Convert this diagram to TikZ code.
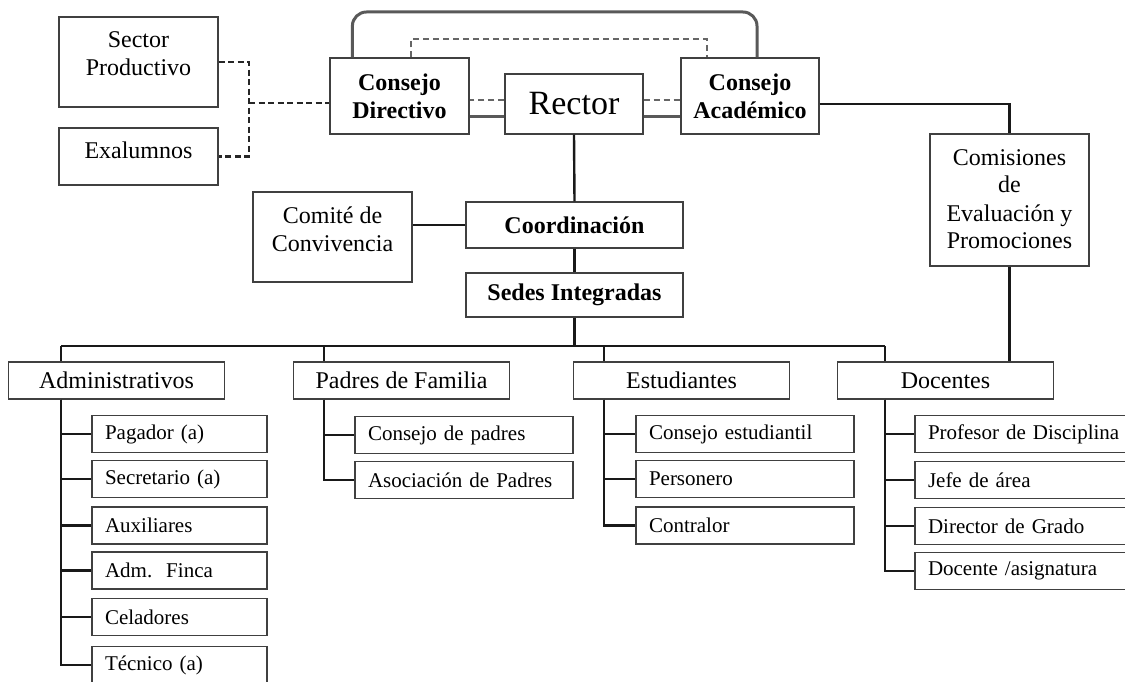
\documentclass[tikz,border=0pt]{standalone}
\usepackage{fontspec}
\setmainfont{Liberation Serif}
\usetikzlibrary{calc}

% box with text set from the top
\newcommand{\topcell}[3]{\parbox[c][#1][t]{#2}{\centering\rule{0pt}{31pt}#3}}

\begin{document}
\begin{tikzpicture}[x=1pt, y=-1pt,
    box/.style={draw=black!75, line width=1.2pt, fill=white, inner sep=0pt},
    big/.style={font=\fontsize{24}{28}\selectfont},
    head/.style={box, font=\bfseries\fontsize{24}{28}\selectfont, align=center},
    group/.style={box, big, minimum width=216pt, minimum height=37pt},
    leaf/.style={box, font=\fontsize{21}{24}\selectfont, minimum height=37pt,
                 inner xsep=13pt, text width=#1, align=left},
    leaf/.default=192pt,
    link/.style={line width=2.4pt, black!90},
    toplink/.style={line width=3pt, black!65, rounded corners=14pt},
    twin/.style={line width=3pt, black!65},
    dashlink/.style={line width=2.4pt, black!85, dash pattern=on 6pt off 3.5pt},
    graydash/.style={line width=2pt, black!60, dash pattern=on 6pt off 4pt}]

    \useasboundingbox (0,0) rectangle (1125,682);

    % Upper boxes
    \node[box, big] (sector) at (138.5,62) {\topcell{90pt}{159pt}{Sector\\Productivo}};
    \node[box, big] (exal) at (138.5,156.5) {\topcell{57pt}{159pt}{Exalumnos}};
    \node[head, minimum width=139pt, minimum height=76pt] (cd) at (399.5,96) {Consejo\\Directivo};
    \node[box, font=\fontsize{34}{38}\selectfont, minimum width=138pt, minimum height=60pt] (rector) at (574,104) {Rector};
    \node[head, minimum width=138pt, minimum height=76pt] (ca) at (750,96) {Consejo\\Académico};
    \node[box, big] (comis) at (1009.5,200) {\topcell{132pt}{159pt}{Comisiones\\de\\Evaluación y\\Promociones}};
    \node[box, big] (comite) at (332.5,237) {\topcell{90pt}{159pt}{Comité de\\Convivencia}};
    \node[head, minimum width=217pt, minimum height=46pt] (coord) at (574.5,225) {Coordinación};
    \node[head, minimum width=217pt, minimum height=44pt] (sedes) at (574.5,295) {Sedes Integradas};

    % Groups
    \node[group] (admin) at (116.5,380.5) {Administrativos};
    \node[group] (padres) at (401.5,380.5) {Padres de Familia};
    \node[group] (estud) at (681.5,380.5) {Estudiantes};
    \node[group] (docen) at (945.5,380.5) {Docentes};

    % Members of each group
    \foreach \n/\y/\t in {pag/434/Pagador (a), sec/479/Secretario (a), aux/525.5/Auxiliares,
                          finca/570.5/Adm.\ \ Finca, cel/617/Celadores, tec/665/Técnico (a)}
        \node[leaf=149pt] (\n) at (179.5,\y) {\t};
    \foreach \n/\y/\t in {cpad/435/Consejo de padres, asoc/480/Asociación de Padres}
        \node[leaf] (\n) at (464,\y) {\t};
    \foreach \n/\y/\t in {cest/434/Consejo estudiantil, pers/479/Personero, contr/525.5/Contralor}
        \node[leaf] (\n) at (745,\y) {\t};
    \foreach \n/\y/\t in {prof/434/Profesor de Disciplina, jefe/480/Jefe de área,
                          dirg/526/Director de Grado, dasig/571/{Docente /asignatura}}
        \node[leaf] (\n) at (1024,\y) {\t};

    % Outside links
    \coordinate (dj) at (249,103);
    \draw[dashlink] (sector.east) -| (dj) |- (exal.east);
    \draw[dashlink] (dj) -- (dj -| cd.west);

    % Links between the councils
    \coordinate (topR) at (757,12);
    \coordinate (dtop) at (707,39);
    \draw[toplink] ([xshift=23pt]cd.north west) |- (topR) -- (topR |- ca.north);
    \draw[graydash] ([xshift=82pt]cd.north west) |- (dtop) -- (dtop |- ca.north);
    \coordinate (dl) at ($(rector.west)+(0,-4)$);
    \coordinate (sl) at ($(rector.west)+(0,13)$);
    \coordinate (dr) at ($(rector.east)+(0,-4)$);
    \coordinate (sr) at ($(rector.east)+(0,13)$);
    \draw[graydash] (dl) -- (dl -| cd.east);
    \draw[twin] (sl) -- (sl -| cd.east);
    \draw[graydash] (dr) -- (dr -| ca.west);
    \draw[twin] (sr) -- (sr -| ca.west);

    % Main line
    \draw[link] (rector.south) -- (coord.north);
    \draw[link] (coord.west) -- (coord.west -| comite.east);
    \draw[link] (coord.south) -- (sedes.north);
    \draw[link] ($(ca.east)+(0,8)$) -| (comis.north);
    \draw[link] (comis.south) -- (comis.south |- docen.north);

    % Bus to the groups
    \coordinate (bA) at (61,346);
    \coordinate (bP) at (324,346);
    \coordinate (bE) at (604,346);
    \coordinate (bD) at (885,346);
    \draw[link] (bA) -- (bD);
    \draw[link] (sedes.south) -- (sedes.south |- bA);
    \foreach \b/\g in {bA/admin, bP/padres, bE/estud, bD/docen}
        \draw[link] (\b) -- (\b |- \g.north);

    % Spines
    \foreach \c in {pag, sec, aux, finca, cel, tec}
        \draw[link] (bA |- admin.south) |- (\c.west);
    \foreach \c in {cpad, asoc}
        \draw[link] (bP |- padres.south) |- (\c.west);
    \foreach \c in {cest, pers, contr}
        \draw[link] (bE |- estud.south) |- (\c.west);
    \foreach \c in {prof, jefe, dirg, dasig}
        \draw[link] (bD |- docen.south) |- (\c.west);
\end{tikzpicture}
\end{document}
